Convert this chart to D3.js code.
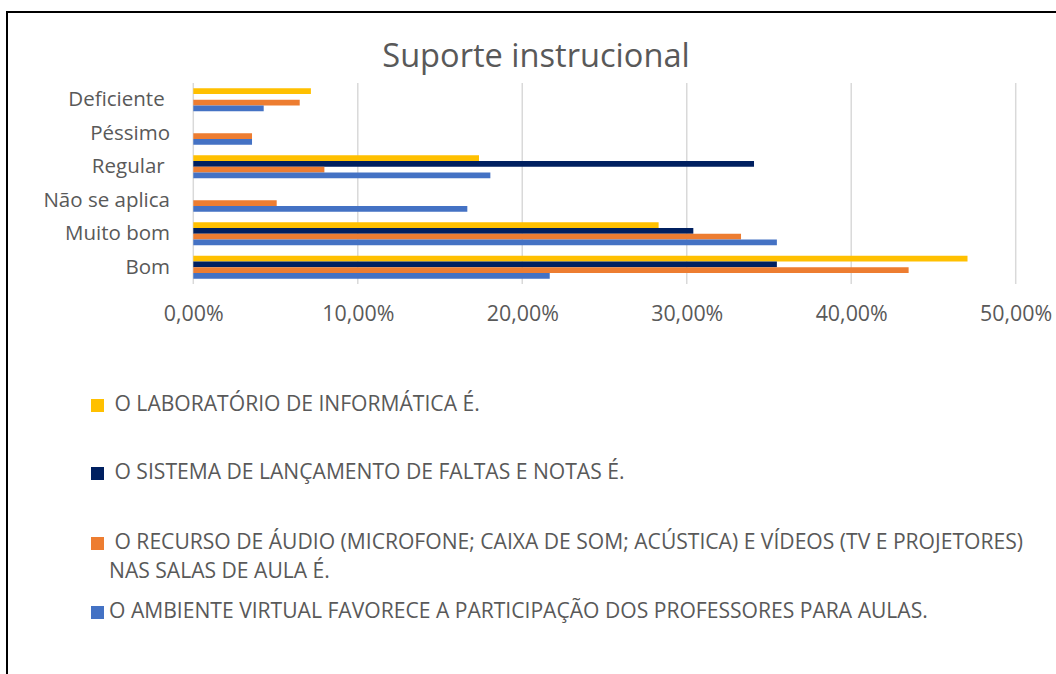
<!DOCTYPE html>
<html>
<head>
<meta charset="utf-8">
<script src="https://cdn.jsdelivr.net/npm/d3@7"></script>
<style>
  html, body { margin: 0; padding: 0; background: #fff; }
  svg { display: block; }
</style>
</head>
<body>
<svg id="chart" width="1056" height="674"></svg>
<script>
// ---- data ----
const categories = ["Deficiente ", "Péssimo", "Regular ", "Não se aplica", "Muito bom", "Bom"];
const seriesNames = [
  "O LABORATÓRIO DE INFORMÁTICA É.",
  "O SISTEMA DE LANÇAMENTO DE FALTAS E NOTAS É.",
  "O RECURSO DE ÁUDIO (MICROFONE; CAIXA DE SOM; ACÚSTICA) E VÍDEOS (TV E PROJETORES) NAS SALAS DE AULA É.",
  "O AMBIENTE VIRTUAL FAVORECE A PARTICIPAÇÃO DOS PROFESSORES PARA AULAS."
];
const laboratorio = [7.15, 0, 17.37, 0, 28.29, 47.07];
const sistema     = [0, 0, 34.09, 0, 30.40, 35.48];
const recurso     = [6.47, 3.57, 7.97, 5.07, 33.30, 43.49];
const ambiente    = [4.28, 3.57, 18.06, 16.66, 35.48, 21.67];
const tickValues  = [0, 10, 20, 30, 40, 50];
const colors = ["#FFC000", "#002060", "#ED7D31", "#4472C4"];

const seriesValues = [laboratorio, sistema, recurso, ambiente];

const svg = d3.select("#chart");
const textColor = "#595959";
const fontFamily = "'Open Sans', sans-serif";

// border
svg.append("path")
  .attr("d", "M7,674 L7,12 L1056,12")
  .attr("fill", "none").attr("stroke", "#000").attr("stroke-width", 2);

// title
svg.append("text")
  .attr("x", 536).attr("y", 67)
  .attr("text-anchor", "middle")
  .attr("font-family", fontFamily).attr("font-size", 32.6)
  .attr("fill", textColor)
  .text("Suporte instrucional");

// scales
const x = d3.scaleLinear().domain([0, 50]).range([193.3, 1015.7]);
const y = d3.scaleBand().domain(categories).range([83, 284]).padding(0);
const ySub = d3.scaleBand().domain(d3.range(4)).range([0, y.bandwidth()])
  .paddingInner(0).paddingOuter(0.913);

// gridlines
svg.append("g").selectAll("line").data(tickValues).join("line")
  .attr("x1", d => x(d)).attr("x2", d => x(d))
  .attr("y1", 83).attr("y2", 284)
  .attr("stroke", "#D9D9D9").attr("stroke-width", 1.5);

// bars
const groups = svg.append("g").selectAll("g").data(seriesValues).join("g")
  .attr("fill", (d, i) => colors[i]);
groups.each(function(vals, si) {
  d3.select(this).selectAll("rect").data(vals).join("rect")
    .attr("x", x(0))
    .attr("y", (d, ci) => y(categories[ci]) + ySub(si))
    .attr("width", d => x(d) - x(0))
    .attr("height", ySub.bandwidth())
    .attr("display", d => d > 0 ? null : "none");
});

// x axis labels
const fmt = v => v.toFixed(2).replace(".", ",") + "%";
const xAxis = d3.axisBottom(x).tickValues(tickValues).tickFormat(fmt).tickSize(0).tickPadding(0);
const gx = svg.append("g").attr("transform", "translate(0,284)").call(xAxis);
gx.select(".domain").remove();
gx.selectAll("text")
  .attr("font-family", fontFamily).attr("font-size", 21.4)
  .attr("fill", textColor).attr("dy", null).attr("y", 37);

// y axis labels
const yAxis = d3.axisLeft(y).tickSize(0).tickPadding(0);
const gy = svg.append("g").attr("transform", "translate(170,0)").call(yAxis);
gy.select(".domain").remove();
gy.selectAll("text")
  .attr("font-family", fontFamily).attr("font-size", 20.5)
  .attr("fill", textColor).style("white-space", "pre").attr("xml:space", "preserve");

// legend
const legendRows = [
  { lines: [" " + seriesNames[0]], sy: 399, base: [411] },
  { lines: [" " + seriesNames[1]], sy: 467, base: [479] },
  { lines: [" O RECURSO DE ÁUDIO (MICROFONE; CAIXA DE SOM; ACÚSTICA) E VÍDEOS (TV E PROJETORES)", "NAS SALAS DE AULA É."], sy: 537, base: [549, 578] },
  { lines: [seriesNames[3]], sy: 606, base: [618] }
];
const lg = svg.append("g");
legendRows.forEach((r, i) => {
  lg.append("rect").attr("x", 91).attr("y", r.sy).attr("width", 13).attr("height", 13)
    .attr("fill", colors[i]);
  r.lines.forEach((ln, li) => {
    lg.append("text")
      .attr("x", 109).attr("y", r.base[li])
      .attr("font-family", fontFamily).attr("font-size", 21.1)
      .attr("fill", textColor)
      .attr("xml:space", "preserve").style("white-space", "pre")
      .text(ln);
  });
});
</script>
</body>
</html>
